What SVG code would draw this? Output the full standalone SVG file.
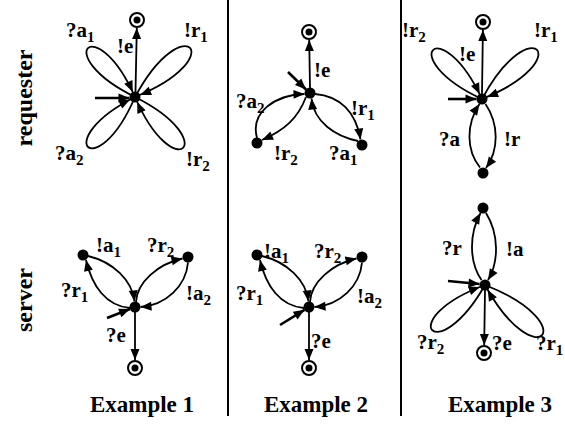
<svg xmlns="http://www.w3.org/2000/svg" width="565" height="425" viewBox="0 0 565 425">
<style>
text{font-family:"Liberation Serif","Times New Roman",serif;font-weight:bold;fill:#000}
.l{font-size:21px}
.s{font-size:15px}
.cap{font-size:23px;text-anchor:middle}
.side{font-size:24px;text-anchor:middle}
.ec{fill:none;stroke:#000;stroke-width:1.8;marker-end:url(#arrC)}
.ea{fill:none;stroke:#000;stroke-width:1.8;marker-end:url(#arr)}
.ini{fill:none;stroke:#000;stroke-width:2.6;marker-end:url(#arr)}
.n{fill:#000}
.fo{fill:#fff;stroke:#000;stroke-width:2}
.div{stroke:#000;stroke-width:2}
</style>
<defs>
<marker id="arr" markerUnits="userSpaceOnUse" viewBox="0 0 11 9" markerWidth="11" markerHeight="9" refX="11" refY="4.5" orient="auto" overflow="visible"><path d="M0,0 L11,4.5 L0,9 z" fill="#000"/></marker>
<marker id="arrC" markerUnits="userSpaceOnUse" viewBox="0 0 11 9" markerWidth="11" markerHeight="9" refX="16.5" refY="4.5" orient="auto" overflow="visible"><path d="M0,0 L11,4.5 L0,9 z" fill="#000"/></marker>
</defs>
<rect width="565" height="425" fill="#fff"/>
<line class="div" x1="228" y1="0" x2="228" y2="416"/>
<line class="div" x1="401" y1="0" x2="401" y2="416"/>
<text class="side" transform="translate(32,98) rotate(-90)">requester</text>
<text class="side" transform="translate(32,300) rotate(-90)">server</text>
<text class="cap" x="142" y="412">Example 1</text>
<text class="cap" x="316" y="412">Example 2</text>
<text class="cap" x="500" y="412">Example 3</text>
<g id="connectors">
<!-- Example 1 requester -->
<path class="ec" d="M135,97 C48.6,54.5 96.1,8.9 135,97"/>
<path class="ec" d="M135,97 C184.6,4.9 232.2,58.3 135,97"/>
<path class="ec" d="M135,97 C96.7,186.4 48.1,140.9 135,97"/>
<path class="ec" d="M135,97 C223.7,141.6 174.3,188.2 135,97"/>
<path class="ea" d="M135.5,92 L136.8,28"/>
<path class="ini" d="M95,98 L129.5,98"/>
<!-- Example 2 requester -->
<path class="ea" d="M257,138 C250,112 275,95 304.5,94"/>
<path class="ea" d="M306,97 C298,118 285,130 262,140"/>
<path class="ea" d="M315,94 C340,96 356,112 360.5,139.5"/>
<path class="ea" d="M358,141 C335,136 314,122 311.5,98.5"/>
<path class="ea" d="M310,88 L309.2,40"/>
<path class="ini" d="M288,72 L306,89.5"/>
<!-- Example 3 requester -->
<path class="ec" d="M482,99 C392.9,57.5 440.5,9.9 482,99"/>
<path class="ec" d="M482,99 C531.6,6.9 579.2,60.3 482,99"/>
<path class="ea" d="M480,167.5 C466,150 466,124 479.5,104"/>
<path class="ea" d="M485.5,104 C499,124 499,150 486,168"/>
<path class="ea" d="M482,94 L482.9,30"/>
<path class="ini" d="M448,99 L476.5,99"/>
<!-- Example 1 server -->
<path class="ea" d="M88,256 C113,262 132,280 134.5,301.5"/>
<path class="ea" d="M130,308 C106,306 92,286 86,260"/>
<path class="ea" d="M136,302 C137,282 158,264 182.5,258.5"/>
<path class="ea" d="M188,262.5 C186,286 166,305 140.5,307"/>
<path class="ea" d="M135,312 L135,360"/>
<path class="ini" d="M107,318 L130,309"/>
<!-- Example 2 server -->
<path class="ea" d="M262,256 C287,262 306,280 308.5,301.5"/>
<path class="ea" d="M304,308 C280,306 266,286 260,260"/>
<path class="ea" d="M310,302 C311,282 332,264 356.5,258.5"/>
<path class="ea" d="M362,262.5 C360,286 340,305 314.5,307"/>
<path class="ea" d="M309,312 L309,360"/>
<path class="ini" d="M280,325 L304.5,309.8"/>
<!-- Example 3 server -->
<path class="ea" d="M481.5,280 C469,262 469,234 480.5,213"/>
<path class="ea" d="M486,213 C499,234 499,262 488,280"/>
<path class="ec" d="M485,285 C436.1,370.6 392.5,319.2 485,285"/>
<path class="ec" d="M485,285 C585.3,324.1 536.7,379.4 485,285"/>
<path class="ea" d="M485,290 L484.2,345"/>
<path class="ini" d="M448,281 L479.5,284"/>
</g>
<!-- Example 1 requester nodes -->
<g id="ex1-req-s0"><circle class="n" cx="135" cy="97" r="5.5"/></g>
<g id="ex1-req-final"><circle class="fo" cx="137" cy="20" r="7"/><circle class="n" cx="137" cy="20" r="3.5"/></g>
<!-- Example 2 requester nodes -->
<g id="ex2-req-s0"><circle class="n" cx="310" cy="93" r="5.5"/></g>
<g id="ex2-req-s1"><circle class="n" cx="257" cy="143" r="5.5"/></g>
<g id="ex2-req-s2"><circle class="n" cx="362" cy="145" r="5.5"/></g>
<g id="ex2-req-final"><circle class="fo" cx="309" cy="32" r="7"/><circle class="n" cx="309" cy="32" r="3.5"/></g>
<!-- Example 3 requester nodes -->
<g id="ex3-req-s0"><circle class="n" cx="482" cy="99" r="5.5"/></g>
<g id="ex3-req-s1"><circle class="n" cx="483" cy="173" r="5.5"/></g>
<g id="ex3-req-final"><circle class="fo" cx="483" cy="22" r="7"/><circle class="n" cx="483" cy="22" r="3.5"/></g>
<!-- Example 1 server nodes -->
<g id="ex1-srv-s0"><circle class="n" cx="135" cy="307" r="5.5"/></g>
<g id="ex1-srv-s1"><circle class="n" cx="83" cy="255" r="5.5"/></g>
<g id="ex1-srv-s2"><circle class="n" cx="188" cy="257" r="5.5"/></g>
<g id="ex1-srv-final"><circle class="fo" cx="135" cy="368" r="7"/><circle class="n" cx="135" cy="368" r="3.5"/></g>
<!-- Example 2 server nodes -->
<g id="ex2-srv-s0"><circle class="n" cx="309" cy="307" r="5.5"/></g>
<g id="ex2-srv-s1"><circle class="n" cx="257" cy="255" r="5.5"/></g>
<g id="ex2-srv-s2"><circle class="n" cx="362" cy="257" r="5.5"/></g>
<g id="ex2-srv-final"><circle class="fo" cx="309" cy="368" r="7"/><circle class="n" cx="309" cy="368" r="3.5"/></g>
<!-- Example 3 server nodes -->
<g id="ex3-srv-s0"><circle class="n" cx="485" cy="285" r="5.5"/></g>
<g id="ex3-srv-s1"><circle class="n" cx="483" cy="208" r="5.5"/></g>
<g id="ex3-srv-final"><circle class="fo" cx="484" cy="353" r="7"/><circle class="n" cx="484" cy="353" r="3.5"/></g>
<g id="labels">
<text class="l" x="66" y="37">?a<tspan class="s" dy="5">1</tspan></text>
<text class="l" x="117" y="53">!e</text>
<text class="l" x="184" y="37">!r<tspan class="s" dy="5">1</tspan></text>
<text class="l" x="55" y="160">?a<tspan class="s" dy="5">2</tspan></text>
<text class="l" x="186" y="166">!r<tspan class="s" dy="5">2</tspan></text>

<text class="l" x="314" y="77">!e</text>
<text class="l" x="236" y="108">?a<tspan class="s" dy="5">2</tspan></text>
<text class="l" x="351" y="115">!r<tspan class="s" dy="5">1</tspan></text>
<text class="l" x="274" y="160">!r<tspan class="s" dy="5">2</tspan></text>
<text class="l" x="329" y="160">?a<tspan class="s" dy="5">1</tspan></text>

<text class="l" x="402" y="37">!r<tspan class="s" dy="5">2</tspan></text>
<text class="l" x="459" y="61">!e</text>
<text class="l" x="534" y="37">!r<tspan class="s" dy="5">1</tspan></text>
<text class="l" x="439" y="146">?a</text>
<text class="l" x="504" y="146">!r</text>

<text class="l" x="96" y="252">!a<tspan class="s" dy="5">1</tspan></text>
<text class="l" x="147" y="252">?r<tspan class="s" dy="5">2</tspan></text>
<text class="l" x="61" y="297">?r<tspan class="s" dy="5">1</tspan></text>
<text class="l" x="186" y="300">!a<tspan class="s" dy="5">2</tspan></text>
<text class="l" x="106" y="342">?e</text>

<text class="l" x="264" y="258">!a<tspan class="s" dy="5">1</tspan></text>
<text class="l" x="314" y="258">?r<tspan class="s" dy="5">2</tspan></text>
<text class="l" x="236" y="300">?r<tspan class="s" dy="5">1</tspan></text>
<text class="l" x="357" y="303">!a<tspan class="s" dy="5">2</tspan></text>
<text class="l" x="311" y="348">?e</text>

<text class="l" x="442" y="255">?r</text>
<text class="l" x="506" y="256">!a</text>
<text class="l" x="417" y="349">?r<tspan class="s" dy="5">2</tspan></text>
<text class="l" x="492" y="350">?e</text>
<text class="l" x="536" y="350">?r<tspan class="s" dy="5">1</tspan></text>
</g>
</svg>
